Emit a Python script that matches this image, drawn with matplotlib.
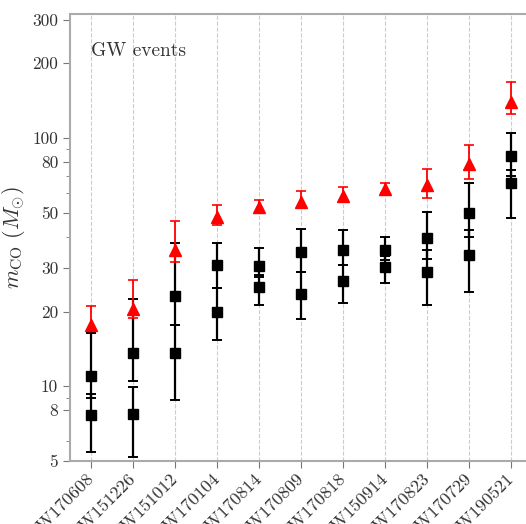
# Masas de objetos compactos por evento GW
import numpy as np
import matplotlib
matplotlib.use('Agg')
import matplotlib.pyplot as plt
from matplotlib.ticker import FixedLocator, NullFormatter

plt.rcParams['font.family'] = 'serif'
plt.rcParams['font.serif'] = ['cmr10', 'DejaVu Serif']
plt.rcParams['mathtext.fontset'] = 'cm'
plt.rcParams['axes.unicode_minus'] = False
plt.rcParams['axes.formatter.use_mathtext'] = True

events = ['GW170608', 'GW151226', 'GW151012', 'GW170104', 'GW170814', 'GW170809',
          'GW170818', 'GW150914', 'GW170823', 'GW170729', 'GW190521']

# masa total (triangulos rojos) con limites inferior / superior
m_tot = [17.6, 20.4, 35.3, 48.2, 52.8, 55.4, 58.5, 62.1, 64.5, 78.3, 140.0]
m_tot_lo = [16.8, 18.8, 31.6, 44.7, 50.3, 52.4, 55.2, 60.0, 57.5, 68.5, 125.0]
m_tot_hi = [21.0, 26.8, 46.3, 53.7, 56.1, 61.2, 63.6, 65.7, 75.2, 93.4, 168.0]

# objeto primario (cuadrado superior)
m1 = [11.0, 13.6, 23.1, 30.7, 30.5, 34.8, 35.3, 35.3, 39.4, 50.0, 84.4]
m1_lo = [9.0, 10.5, 17.6, 24.9, 27.5, 28.8, 30.7, 32.2, 32.6, 39.8, 70.5]
m1_hi = [16.4, 22.4, 37.7, 37.8, 35.9, 43.0, 42.6, 40.0, 50.3, 65.7, 104.7]

# objeto secundario (cuadrado inferior)
m2 = [7.64, 7.71, 13.6, 19.9, 25.1, 23.6, 26.6, 30.3, 28.9, 33.7, 65.7]
m2_lo = [5.42, 5.17, 8.79, 15.4, 21.2, 18.6, 21.6, 26.1, 21.2, 23.9, 47.6]
m2_hi = [9.3, 9.9, 17.6, 24.9, 28.0, 28.8, 30.7, 33.4, 35.3, 42.8, 74.3]

x = np.arange(len(events))

fig = plt.figure(figsize=(5.26, 5.24), dpi=100)
ax = fig.add_axes([70/526, 63/524, 462/526, 447/524])

def yerr(v, lo, hi):
    v = np.array(v)
    return [v - np.array(lo), np.array(hi) - v]

ax.errorbar(x, m1, yerr=yerr(m1, m1_lo, m1_hi), fmt='s', color='black',
            ms=7.5, elinewidth=1.6, capsize=3.5, capthick=1.4, zorder=3)
ax.errorbar(x, m2, yerr=yerr(m2, m2_lo, m2_hi), fmt='s', color='black',
            ms=7.5, elinewidth=1.6, capsize=3.5, capthick=1.4, zorder=3)
ax.errorbar(x, m_tot, yerr=yerr(m_tot, m_tot_lo, m_tot_hi), fmt='^', color='red',
            ms=8, elinewidth=1.3, capsize=3.5, capthick=1.2, zorder=4)

ax.set_yscale('log')
ax.set_ylim(5, 316)
ax.set_xlim(-0.5, 10.5)

ax.yaxis.set_major_locator(FixedLocator([5, 8, 10, 20, 30, 50, 80, 100, 200, 300]))
ax.yaxis.set_major_formatter(plt.FuncFormatter(lambda v, p: '%d' % v))
ax.yaxis.set_minor_locator(FixedLocator([6, 9, 40, 60, 70, 90]))
ax.yaxis.set_minor_formatter(NullFormatter())

ax.set_xticks(x)
ax.set_xticklabels(events, rotation=45, ha='right', va='center',
                   rotation_mode='anchor', fontsize=13)
ax.tick_params(axis='y', which='major', labelsize=12.5, length=5, color='#777777', labelcolor='#333333')
ax.tick_params(axis='y', which='minor', length=3, color='#777777')
ax.tick_params(axis='x', length=5, pad=6, color='#777777', labelcolor='#333333')

ax.grid(axis='x', color='#cccccc', linestyle='--', linewidth=0.8)
for s in ['left', 'bottom', 'top']:
    ax.spines[s].set_color('#aaaaaa')
    ax.spines[s].set_linewidth(1.5)
ax.spines['right'].set_visible(False)

ax.set_ylabel(r'$m_{\rm CO}\ (M_{\odot})$', fontsize=16, color='#333333')
ax.text(0, 225, 'GW events', fontsize=14, color='#333333', va='center', ha='left')

fig.savefig('out.png', dpi=100)
